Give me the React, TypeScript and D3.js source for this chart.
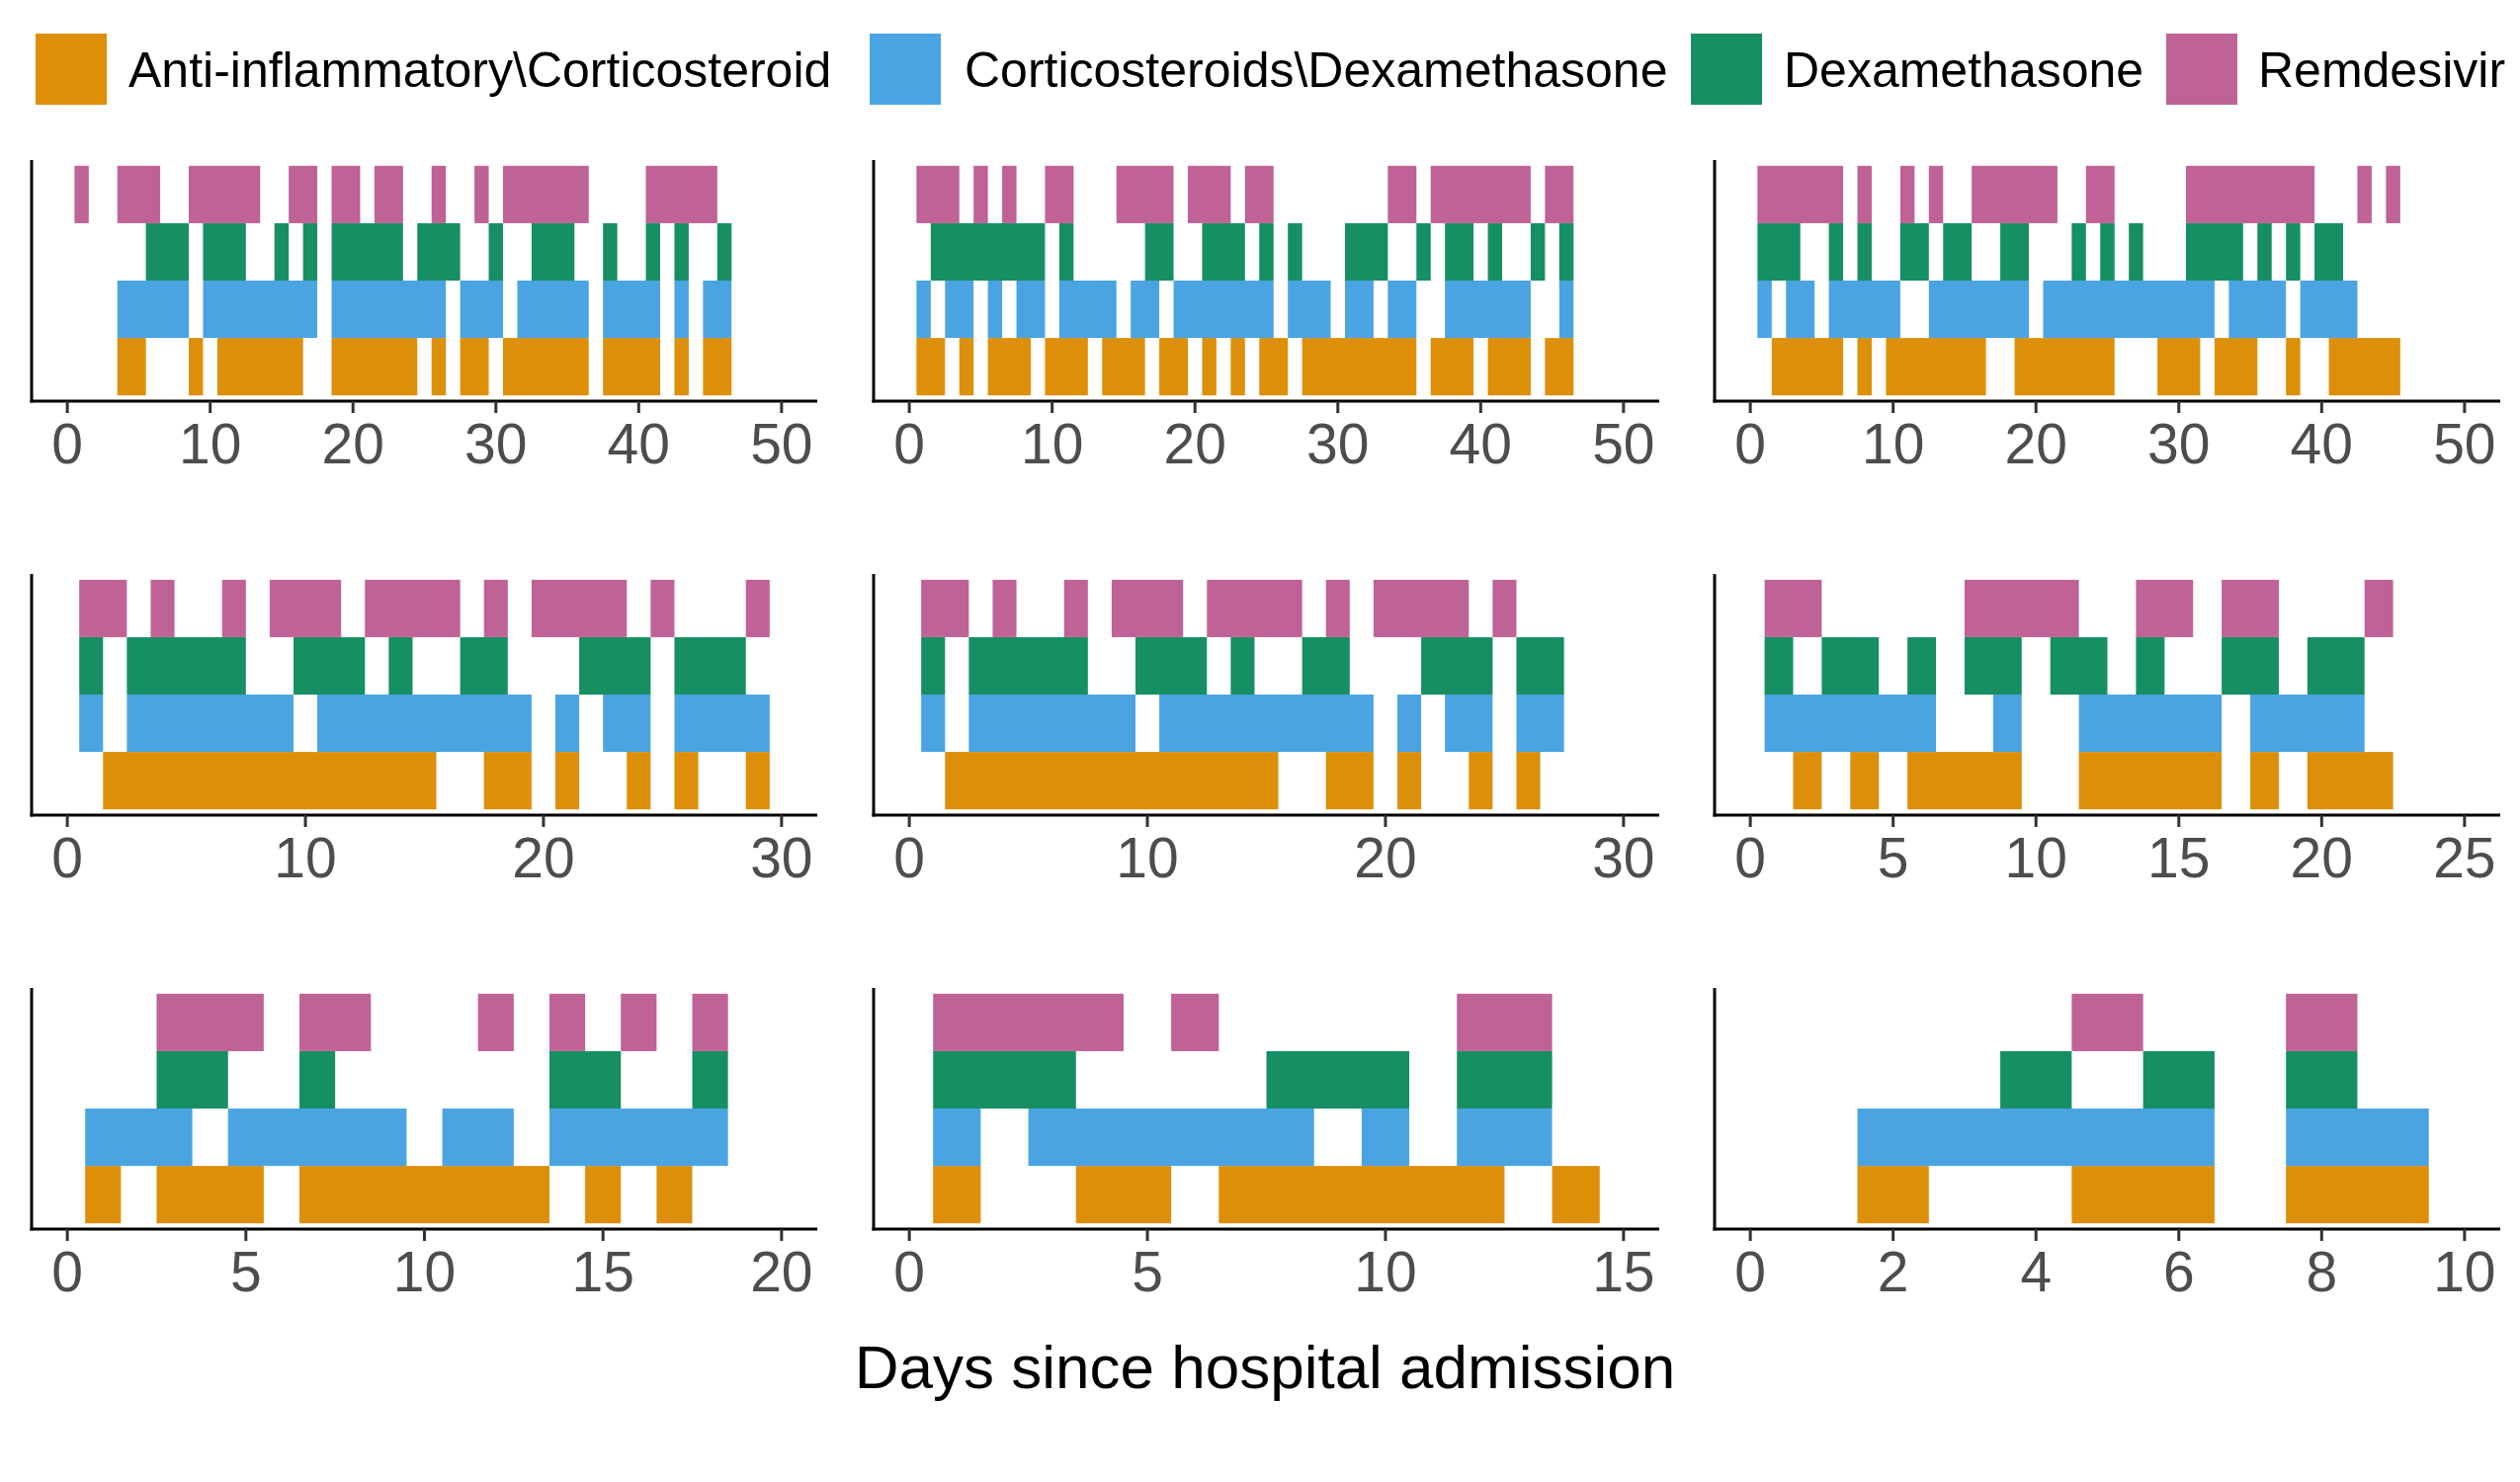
import React from "react";
import * as d3 from "d3";

// ---------- data ----------
const drugs = [
  "Anti-inflammatory\\Corticosteroid",
  "Corticosteroids\\Dexamethasone",
  "Dexamethasone",
  "Remdesivir",
];
const drugColors = ["#DE8F09", "#4AA4E2", "#168F62", "#BF6296"];

// days on which each drug was given, one list per patient panel
const antiDays = [
  [4, 5, 9, 11, 12, 13, 14, 15, 16, 19, 20, 21, 22, 23, 24, 26, 28, 29, 31, 32, 33, 34, 35, 36, 38, 39, 40, 41, 43, 45, 46],
  [1, 2, 4, 6, 7, 8, 10, 11, 12, 14, 15, 16, 18, 19, 21, 23, 25, 26, 28, 29, 30, 31, 32, 33, 34, 35, 37, 38, 39, 41, 42, 43, 45, 46],
  [2, 3, 4, 5, 6, 8, 10, 11, 12, 13, 14, 15, 16, 19, 20, 21, 22, 23, 24, 25, 29, 30, 31, 33, 34, 35, 38, 41, 42, 43, 44, 45],
  [2, 3, 4, 5, 6, 7, 8, 9, 10, 11, 12, 13, 14, 15, 18, 19, 21, 24, 26, 29],
  [2, 3, 4, 5, 6, 7, 8, 9, 10, 11, 12, 13, 14, 15, 18, 19, 21, 24, 26],
  [2, 4, 6, 7, 8, 9, 12, 13, 14, 15, 16, 18, 20, 21, 22],
  [1, 3, 4, 5, 7, 8, 9, 10, 11, 12, 13, 15, 17],
  [1, 4, 5, 7, 8, 9, 10, 11, 12, 14],
  [2, 5, 6, 8, 9],
];
const cortDays = [
  [4, 5, 6, 7, 8, 10, 11, 12, 13, 14, 15, 16, 17, 19, 20, 21, 22, 23, 24, 25, 26, 28, 29, 30, 32, 33, 34, 35, 36, 38, 39, 40, 41, 43, 45, 46],
  [1, 3, 4, 6, 8, 9, 11, 12, 13, 14, 16, 17, 19, 20, 21, 22, 23, 24, 25, 27, 28, 29, 31, 32, 34, 35, 38, 39, 40, 41, 42, 43, 46],
  [1, 3, 4, 6, 7, 8, 9, 10, 13, 14, 15, 16, 17, 18, 19, 21, 22, 23, 24, 25, 26, 27, 28, 29, 30, 31, 32, 34, 35, 36, 37, 39, 40, 41, 42],
  [1, 3, 4, 5, 6, 7, 8, 9, 11, 12, 13, 14, 15, 16, 17, 18, 19, 21, 23, 24, 26, 27, 28, 29],
  [1, 3, 4, 5, 6, 7, 8, 9, 11, 12, 13, 14, 15, 16, 17, 18, 19, 21, 23, 24, 26, 27],
  [1, 2, 3, 4, 5, 6, 9, 12, 13, 14, 15, 16, 18, 19, 20, 21],
  [1, 2, 3, 5, 6, 7, 8, 9, 11, 12, 14, 15, 16, 17, 18],
  [1, 3, 4, 5, 6, 7, 8, 10, 12, 13],
  [2, 3, 4, 5, 6, 8, 9],
];
const dexaDays = [
  [6, 7, 8, 10, 11, 12, 15, 17, 19, 20, 21, 22, 23, 25, 26, 27, 30, 33, 34, 35, 38, 41, 43, 46],
  [2, 3, 4, 5, 6, 7, 8, 9, 11, 17, 18, 21, 22, 23, 25, 27, 31, 32, 33, 36, 38, 39, 41, 44, 46],
  [1, 2, 3, 6, 8, 11, 12, 14, 15, 18, 19, 23, 25, 27, 31, 32, 33, 34, 36, 38, 40, 41],
  [1, 3, 4, 5, 6, 7, 10, 11, 12, 14, 17, 18, 22, 23, 24, 26, 27, 28],
  [1, 3, 4, 5, 6, 7, 10, 11, 12, 14, 17, 18, 22, 23, 24, 26, 27],
  [1, 3, 4, 6, 8, 9, 11, 12, 14, 17, 18, 20, 21],
  [3, 4, 7, 14, 15, 18],
  [1, 2, 3, 8, 9, 10, 12, 13],
  [4, 6, 8],
];
const remdDays = [
  [1, 4, 5, 6, 9, 10, 11, 12, 13, 16, 17, 19, 20, 22, 23, 26, 29, 31, 32, 33, 34, 35, 36, 41, 42, 43, 44, 45],
  [1, 2, 3, 5, 7, 10, 11, 15, 16, 17, 18, 20, 21, 22, 24, 25, 34, 35, 37, 38, 39, 40, 41, 42, 43, 45, 46],
  [1, 2, 3, 4, 5, 6, 8, 11, 13, 16, 17, 18, 19, 20, 21, 24, 25, 31, 32, 33, 34, 35, 36, 37, 38, 39, 43, 45],
  [1, 2, 4, 7, 9, 10, 11, 13, 14, 15, 16, 18, 20, 21, 22, 23, 25, 29],
  [1, 2, 4, 7, 9, 10, 11, 13, 14, 15, 16, 18, 20, 21, 22, 23, 25],
  [1, 2, 8, 9, 10, 11, 14, 15, 17, 18, 22],
  [3, 4, 5, 7, 8, 12, 14, 16, 18],
  [1, 2, 3, 4, 6, 12, 13],
  [5, 8],
];

const xMaxes = [50, 50, 50, 30, 30, 25, 20, 15, 10];
const tickLabels = [
  [0, 10, 20, 30, 40, 50],
  [0, 10, 20, 30, 40, 50],
  [0, 10, 20, 30, 40, 50],
  [0, 10, 20, 30],
  [0, 10, 20, 30],
  [0, 5, 10, 15, 20, 25],
  [0, 5, 10, 15, 20],
  [0, 5, 10, 15],
  [0, 2, 4, 6, 8, 10],
];
const xTitle = "Days since hospital admission";

// ---------- layout ----------
const W = 2550;
const H = 1500;
const FONT = "'Liberation Sans', Arial, Helvetica, sans-serif";
const colLeft = [32, 884, 1735];
const panelW = 795;
const rowTop = [162, 581, 1000];
const panelH = 244;
const legendKeyX = [36, 880, 1711, 2192];
const legendTextX = [130, 976, 1805, 2285];

function toRuns(days: number[]): [number, number][] {
  const s = [...days].sort((a, b) => a - b);
  const out: [number, number][] = [];
  for (const d of s) {
    const last = out[out.length - 1];
    if (last && d === last[1] + 1) last[1] = d;
    else out.push([d, d]);
  }
  return out;
}

const allDays = [antiDays, cortDays, dexaDays, remdDays];

function Panel({ idx }: { idx: number }) {
  const col = idx % 3;
  const row = Math.floor(idx / 3);
  const left = colLeft[col];
  const top = rowTop[row];
  const M = xMaxes[idx];
  const x = d3.scaleLinear().domain([-0.05 * M, 1.05 * M]).range([left, left + panelW]);
  const y = d3.scaleLinear().domain([0.4, 4.6]).range([top + panelH, top]);
  const bottom = top + panelH;
  return (
    <g>
      {allDays.map((series, k) =>
        toRuns(series[idx]).map(([s, e], i) => (
          <rect
            key={`${k}-${i}`}
            x={x(s - 0.5)}
            width={x(e + 0.5) - x(s - 0.5)}
            y={y(k + 1.5)}
            height={y(k + 0.5) - y(k + 1.5)}
            fill={drugColors[k]}
          />
        ))
      )}
      <line x1={left} x2={left} y1={top} y2={bottom + 1.5} stroke="#000" strokeWidth={3} />
      <line x1={left - 1.5} x2={left + panelW} y1={bottom} y2={bottom} stroke="#000" strokeWidth={3} />
      {tickLabels[idx].map((t) => (
        <g key={t}>
          <line x1={x(t)} x2={x(t)} y1={bottom} y2={bottom + 12} stroke="#333" strokeWidth={3} />
          <text
            x={x(t)}
            y={bottom + 63}
            textAnchor="middle"
            fontSize={57}
            fill="#4D4D4D"
            fontFamily={FONT}
          >
            {t}
          </text>
        </g>
      ))}
    </g>
  );
}

export default function App() {
  return (
    <div style={{ position: "absolute", left: 0, top: 0 }}>
      <svg width={W} height={H} style={{ display: "block", background: "#fff" }}>
        <rect x={0} y={0} width={W} height={H} fill="#fff" />
        {drugs.map((d, k) => (
          <g key={d}>
            <rect x={legendKeyX[k]} y={34} width={72} height={72} fill={drugColors[k]} />
            <text x={legendTextX[k]} y={88} fontSize={50} fontFamily={FONT} fill="#000">
              {d}
            </text>
          </g>
        ))}
        {xMaxes.map((_, i) => (
          <Panel key={i} idx={i} />
        ))}
        <text
          x={1280}
          y={1405}
          textAnchor="middle"
          fontSize={62}
          fontFamily={FONT}
          fill="#000"
        >
          {xTitle}
        </text>
      </svg>
    </div>
  );
}
